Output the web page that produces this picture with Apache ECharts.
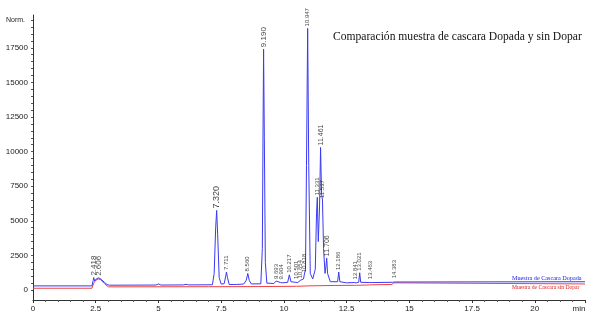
<!DOCTYPE html>
<html>
<head>
<meta charset="utf-8">
<title>Comparación muestra de cascara Dopada y sin Dopar</title>
<script src="https://cdn.jsdelivr.net/npm/echarts@6/dist/echarts.min.js"></script>
<style>
  html, body { margin: 0; padding: 0; background: #fff; }
  #chart { width: 589px; height: 319px; }
</style>
</head>
<body>
<div id="chart"></div>
<script>
// Muestra dopada (trazo azul): tiempo de retención (min) y respuesta (Norm.)
const dopadaTimes = [
  0, 2.35, 2.40, 2.418, 2.46, 2.52, 2.606, 2.70, 2.85, 2.95, 3.05,
  4.9, 5.0, 5.1, 6.0, 6.1, 6.2,
  7.15, 7.22, 7.28, 7.320, 7.36, 7.42, 7.50, 7.62, 7.68, 7.711, 7.75, 7.82,
  8.0, 8.05, 8.1, 8.3, 8.35, 8.4, 8.5, 8.560, 8.62, 8.7,
  9.08, 9.14, 9.17, 9.190, 9.22, 9.26, 9.32,
  9.6, 9.67, 9.693, 9.73, 9.86, 9.904, 9.95,
  10.15, 10.217, 10.28, 10.45, 10.501, 10.55, 10.62, 10.654, 10.70,
  10.78, 10.818, 10.86, 10.90, 10.947, 10.99, 11.05, 11.15,
  11.25, 11.30, 11.331, 11.37, 11.42, 11.461, 11.50, 11.537, 11.58,
  11.64, 11.68, 11.706, 11.74, 11.85,
  12.14, 12.186, 12.23, 12.5, 12.80, 12.841, 12.88,
  12.98, 13.021, 13.06, 13.40, 13.463, 13.52,
  14.33, 14.383, 14.43, 22
]
const dopadaValues = [
  300, 300, 700, 900, 650, 800, 880, 800, 550, 400, 350,
  360, 440, 360, 370, 410, 370,
  380, 1200, 4500, 5750, 4000, 900, 430, 460, 1000, 1300, 900, 400,
  400, 500, 400, 420, 520, 440, 700, 1200, 700, 440,
  450, 3000, 12000, 17400, 11000, 2000, 500,
  470, 600, 650, 520, 540, 620, 520,
  560, 1100, 600, 560, 660, 540, 620, 700, 620,
  800, 1150, 1500, 9000, 18900, 9000, 1200, 800,
  1500, 5500, 6700, 3500, 6000, 10300, 7000, 6500, 3000,
  1200, 1800, 2300, 1200, 600,
  600, 1300, 600, 520, 540, 620, 520,
  560, 1250, 560, 540, 640, 540,
  560, 700, 580, 600
]

// Muestra sin dopar (trazo rojo)
const sinDoparTimes = [
  0, 2.35, 2.42, 2.5, 2.6, 2.7, 2.85, 3.0,
  7.0, 9.0, 10.5, 11.0, 12.0, 12.8, 12.84, 12.9,
  13.4, 13.463, 13.5, 14.3, 14.383, 14.45, 22
]
const sinDoparValues = [
  130, 130, 500, 700, 800, 750, 450, 230,
  240, 250, 270, 300, 330, 340, 420, 340,
  370, 450, 380, 400, 520, 420, 440
]

// Etiquetas de picos (tiempo, altura del ápice)
const peakTimes = [
  2.418, 2.606, 7.320, 7.711, 8.560, 9.190, 9.693, 9.904, 10.217, 10.501,
  10.654, 10.818, 10.947, 11.331, 11.461, 11.537, 11.706, 12.186, 12.841,
  13.021, 13.463, 14.383
]
const peakHeights = [
  900, 880, 5750, 1300, 1200, 17400, 650, 620, 1100, 660,
  700, 1150, 18900, 6700, 10300, 6500, 2300, 1300, 620,
  1250, 640, 700
]

const xTickLabels = [0, 2.5, 5, 7.5, 10, 12.5, 15, 17.5, 20]
const yTickLabels = [0, 2500, 5000, 7500, 10000, 12500, 15000, 17500]
const yMinorTicks = [0, 500, 1000, 1500, 2000, 2500, 3000, 3500, 4000, 4500, 5000, 5500,
  6000, 6500, 7000, 7500, 8000, 8500, 9000, 9500, 10000, 10500, 11000, 11500, 12000,
  12500, 13000, 13500, 14000, 14500, 15000, 15500, 16000, 16500, 17000, 17500,
  18000, 18500, 19000, 19500]

const seriesNames = ['Muestra de Cascara Dopada', 'Muestra de Cascara sin Dopar']

// tamaños de etiqueta que se ven más grandes en el original
const labelSizes = { '2.418': 8, '2.606': 8, '7.320': 9, '9.190': 8, '11.461': 7, '11.706': 7 }

const SANS = 'Liberation Sans, Arial, sans-serif'
const SERIF = 'Liberation Serif, Times New Roman, serif'
const BLUE = '#3a3af2'
const RED = '#f24040'

function pairs(xs, ys) {
  return xs.map((x, i) => [x, ys[i]])
}

const chart = echarts.init(document.getElementById('chart'), null, { renderer: 'canvas' })

chart.setOption({
  animation: false,
  backgroundColor: '#fff',
  title: {
    text: 'Comparación muestra de cascara Dopada y sin Dopar',
    left: 333,
    top: 31,
    padding: 0,
    textStyle: { fontFamily: SERIF, fontSize: 11.6, fontWeight: 'normal', color: '#111' }
  },
  legend: {
    orient: 'vertical',
    left: 507,
    top: 275,
    align: 'left',
    icon: 'none',
    itemWidth: 0,
    itemHeight: 6,
    itemGap: 4,
    padding: 0,
    data: [
      { name: seriesNames[0], textStyle: { color: '#2020e0', fontSize: 6.2 } },
      { name: seriesNames[1], textStyle: { color: '#e02020', fontSize: 5.6 } }
    ],
    textStyle: { fontFamily: SERIF, fontSize: 6, padding: 0 }
  },
  grid: { left: 33, right: 4, top: 15, bottom: 19 },
  xAxis: {
    type: 'value',
    min: 0,
    max: 22,
    interval: 2.5,
    name: 'min',
    nameLocation: 'end',
    nameGap: -6,
    nameTextStyle: { fontFamily: SANS, fontSize: 8, color: '#222', align: 'center', verticalAlign: 'top', padding: [5, 0, 0, 0] },
    axisLine: { onZero: false, lineStyle: { color: '#333', width: 1 } },
    axisTick: { show: true, inside: false, length: 3, lineStyle: { color: '#333' } },
    minorTick: { show: true, splitNumber: 5, length: 2, lineStyle: { color: '#555' } },
    axisLabel: { customValues: xTickLabels, fontFamily: SANS, fontSize: 8, color: '#222', margin: 5 },
    splitLine: { show: false }
  },
  yAxis: {
    type: 'value',
    min: -720,
    max: 19870,
    name: 'Norm.',
    nameLocation: 'end',
    nameGap: -5,
    nameTextStyle: { fontFamily: SANS, fontSize: 7, color: '#222', align: 'right', verticalAlign: 'middle', padding: [0, 8, 0, 0] },
    axisLine: { show: true, lineStyle: { color: '#333', width: 1 } },
    axisTick: { show: true, customValues: yMinorTicks, length: 2, lineStyle: { color: '#555' } },
    axisLabel: {
      customValues: yTickLabels,
      fontFamily: SANS,
      fontSize: 8,
      color: '#222',
      margin: 5,
      formatter: v => String(v)
    },
    splitLine: { show: false }
  },
  series: [
    {
      name: seriesNames[1],
      type: 'line',
      data: pairs(sinDoparTimes, sinDoparValues),
      showSymbol: false,
      symbol: 'none',
      color: RED,
      lineStyle: { color: RED, width: 1 },
      z: 2
    },
    {
      name: seriesNames[0],
      type: 'line',
      data: pairs(dopadaTimes, dopadaValues),
      showSymbol: false,
      symbol: 'none',
      color: BLUE,
      lineStyle: { color: BLUE, width: 1 },
      z: 3
    },
    {
      name: 'picos',
      type: 'scatter',
      symbolSize: 0,
      silent: true,
      z: 4,
      data: peakTimes.map((t, i) => {
        const txt = t.toFixed(3)
        return {
          value: [t, peakHeights[i]],
          name: txt,
          label: { fontSize: labelSizes[txt] || 6 }
        }
      }),
      label: {
        show: true,
        position: 'top',
        distance: 2,
        rotate: 90,
        align: 'left',
        verticalAlign: 'middle',
        fontFamily: SANS,
        color: '#111',
        formatter: p => p.name
      }
    }
  ]
})
</script>
</body>
</html>
